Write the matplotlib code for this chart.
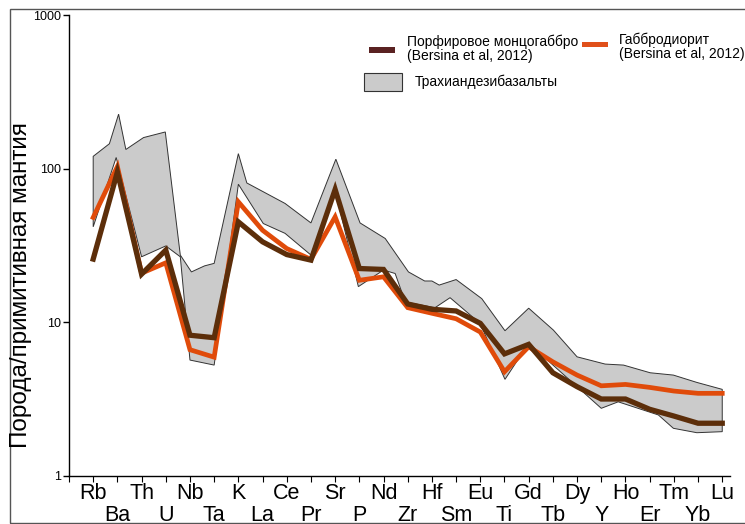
import numpy as np
import matplotlib.pyplot as plt
from matplotlib.patches import Rectangle
from matplotlib.ticker import NullLocator

# элементы (нормировано на примитивную мантию)
elements = ['Rb', 'Ba', 'Th', 'U', 'Nb', 'Ta', 'K', 'La', 'Ce', 'Pr', 'Sr', 'P', 'Nd', 'Zr',
            'Hf', 'Sm', 'Eu', 'Ti', 'Gd', 'Tb', 'Dy', 'Y', 'Ho', 'Er', 'Tm', 'Yb', 'Lu']

monzogabbro = [25.7, 95, 20.5, 29.4, 8.2, 7.9, 44.9, 33.3, 27.5, 25.3, 73, 22.3, 22, 13.1,
               12.1, 11.8, 9.8, 6.2, 7.15, 4.67, 3.79, 3.15, 3.15, 2.70, 2.44, 2.19, 2.19]
gabbrodiorite = [48, 103, 20.8, 24.3, 6.6, 5.9, 60.6, 39.6, 30.1, 25.6, 48.4, 18.7, 19.7, 12.4,
                 11.4, 10.5, 8.6, 4.74, 6.9, 5.5, 4.51, 3.84, 3.92, 3.75, 3.55, 3.43, 3.43]

# поле трахиандезибазальтов (верхняя и нижняя граница)
upper_pos = [0, 0.67, 1.05, 1.35, 2.08, 2.98, 3.6, 4.06, 4.6, 5.0, 6.0, 6.35, 7.93, 9.0, 10.03,
             11.03, 12.07, 13.03, 13.7, 14.0, 14.3, 15.0, 16.06, 17.02, 18.0, 19.02, 20.0,
             21.16, 21.92, 23.02, 23.98, 24.95, 26.0]
upper_val = [120, 145, 226, 133, 159, 173, 27.3, 21.2, 23.2, 24.1, 125, 80.5, 59.2, 44.2, 115,
             44.2, 35, 21.2, 18.5, 18.5, 17.4, 18.9, 14.2, 8.77, 12.3, 8.86, 5.93,
             5.32, 5.24, 4.67, 4.51, 4.04, 3.64]
lower_pos = [0, 0.95, 2.0, 3.0, 3.6, 4.0, 5.0, 6.0, 7.03, 7.93, 9.0, 10.0, 10.96, 12.0, 12.48,
             12.9, 14.13, 14.75, 15.99, 17.02, 18.0, 21.0, 21.7, 23.36, 23.98, 24.95, 26.0]
lower_val = [41.7, 118, 26.6, 31.3, 26.6, 5.65, 5.24, 79, 43.8, 37.8, 27.3, 72.2, 17, 21.8, 20.7,
             13.5, 12.4, 14.4, 9.8, 4.23, 7.26, 2.74, 3.02, 2.48, 2.03, 1.90, 1.93]

W, H = 745, 524
plt.rcParams['font.family'] = ['Liberation Sans', 'DejaVu Sans']
fig = plt.figure(figsize=(W / 100, H / 100), dpi=100)
ax = fig.add_axes([69 / W, 1 - 475.5 / H, (729.5 - 69) / W, (475.5 - 15) / H])

x = np.arange(len(elements))
env_x = upper_pos + lower_pos[::-1]
env_y = upper_val + lower_val[::-1]
ax.fill(env_x, env_y, facecolor='#cbcbcb', edgecolor='#333333', linewidth=0.7, zorder=1)
ax.plot(x, gabbrodiorite, color='#e04b0a', lw=3.4, zorder=2, solid_joinstyle='miter')
ax.plot(x, monzogabbro, color='#5c2e0a', lw=3.8, zorder=3, solid_joinstyle='miter')

ax.set_yscale('log')
ax.set_ylim(1, 1000)
ax.set_xlim(-1, 26.3)
ax.set_yticks([1, 10, 100, 1000], ['1', '10', '100', '1000'])
ax.yaxis.set_minor_locator(NullLocator())
ax.set_xticks(range(-1, 27), [''] * 28)
ax.tick_params(axis='y', labelsize=9, length=4, width=1, pad=2)
ax.tick_params(axis='x', length=4, width=0.8)
for s in ['top', 'right']:
    ax.spines[s].set_visible(False)
ax.spines['left'].set_linewidth(1)
ax.spines['bottom'].set_linewidth(1)

# подписи элементов в два ряда
tr = ax.get_xaxis_transform()
for i, name in enumerate(elements):
    yy = -0.016 if i % 2 == 0 else -0.063
    ax.text(i, yy, name, transform=tr, ha='center', va='top', fontsize=15.5)

fig.text(21 / W, 1 - 285 / H, 'Порода/примитивная мантия', rotation=90,
         ha='center', va='center', fontsize=17.5)

# легенда
def fx(px):
    return px / W

def fy(py):
    return 1 - py / H

fig.add_artist(Rectangle((fx(369), fy(53)), 26 / W, 6 / H, transform=fig.transFigure,
                         facecolor='#5a2222', edgecolor='none'))
fig.text(fx(407), fy(49), 'Порфировое монцогаббро\n(Bersina et al, 2012)', fontsize=10,
         va='center', ha='left', linespacing=1.05)
fig.add_artist(Rectangle((fx(582), fy(47)), 26 / W, 5 / H, transform=fig.transFigure,
                         facecolor='#e0501a', edgecolor='none'))
fig.text(fx(619), fy(47), 'Габбродиорит\n(Bersina et al, 2012)', fontsize=10,
         va='center', ha='left', linespacing=1.05)
fig.add_artist(Rectangle((fx(364), fy(91)), 38 / W, 18 / H, transform=fig.transFigure,
                         facecolor='#cbcbcb', edgecolor='#333333', lw=0.8))
fig.text(fx(415), fy(82), 'Трахиандезибазальты', fontsize=10, va='center', ha='left')

# рамка
fig.add_artist(Rectangle((fx(10), fy(523)), 760 / W, 514 / H, transform=fig.transFigure,
                         fill=False, edgecolor='#555555', lw=1))

fig.savefig('out.png', dpi=100)
